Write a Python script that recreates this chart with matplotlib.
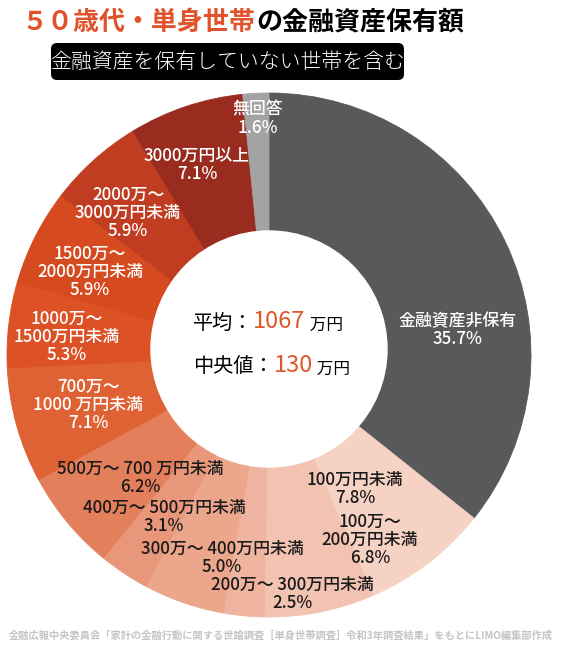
import matplotlib
matplotlib.use("Agg")
import matplotlib.pyplot as plt
from matplotlib.patches import Circle, FancyBboxPatch

plt.rcParams['font.family'] = ['Noto Sans CJK JP', 'DejaVu Sans']

W, H = 561, 646

# data (clockwise from 12 o'clock)
categories = ["金融資産非保有", "100万円未満", "100万～\n200万円未満", "200万～ 300万円未満",
              "300万～ 400万円未満", "400万～ 500万円未満", "500万～ 700 万円未満",
              "700万～\n1000 万円未満", "1000万～\n1500万円未満", "1500万～\n2000万円未満",
              "2000万～\n3000万円未満", "3000万円以上", "無回答"]
shares = [35.7, 7.8, 6.8, 2.5, 5.0, 3.1, 6.2, 7.1, 5.3, 5.9, 5.9, 7.1, 1.6]
slice_colors = ["#58595b", "#f6d2c4", "#f2c3b1", "#efb49f", "#eba68c", "#e8977a",
                "#e47f5c", "#df6234", "#dc5226", "#d64a1f", "#c03d22", "#992c1f", "#a3a3a3"]
label_colors = ["white", "#1a1a1a", "#1a1a1a", "#1a1a1a", "#1a1a1a", "#1a1a1a", "#1a1a1a",
                "white", "white", "white", "white", "white", "white"]
# label centres in image pixels (x, y from top)
label_pos = [(458, 330), (355, 489), (370, 540), (292, 594), (222, 558), (164, 517),
             (140, 478), (88, 405), (67, 337), (90, 272), (128, 213), (197, 165), (258, 119)]

mean_value = "1067"
median_value = "130"
title_red = "５０歳代・単身世帯"
title_black = "の金融資産保有額"
subtitle = "金融資産を保有していない世帯を含む"
source = "金融広報中央委員会「家計の金融行動に関する世論調査［単身世帯調査］令和3年調査結果」をもとにLIMO編集部作成"


def py(y):
    # image pixel y (from top) -> axes y
    return H - y


fig = plt.figure(figsize=(W / 100, H / 100), dpi=100)
fig.patch.set_facecolor("white")
ax = fig.add_axes([0, 0, 1, 1])

cx, cy, r = 269, py(355), 262
wedges, _ = ax.pie(shares, colors=slice_colors, startangle=90, counterclock=False,
                   radius=r, center=(cx, cy))
for w, c in zip(wedges, slice_colors):
    w.set_edgecolor(c)
    w.set_linewidth(0.6)
ax.add_patch(Circle((269, py(349)), 118, color="white", zorder=3))

ax.set_xlim(0, W)
ax.set_ylim(0, H)
ax.set_aspect("auto")
ax.axis("off")

# slice labels
for cat, val, col, (x, y) in zip(categories, shares, label_colors, label_pos):
    ax.text(x, py(y), f"{cat}\n{val:.1f}%", ha="center", va="center", color=col,
            fontsize=12.2, fontweight="medium", linespacing=1.02, zorder=4)

# title
t1 = ax.text(22, py(22), title_red, ha="left", va="center", color="#e0532b",
             fontsize=18.7, fontweight="bold")
ax.annotate(title_black, xy=(1, 0), xycoords=t1, ha="left", va="bottom",
            color="black", fontsize=18.7, fontweight="bold")

# subtitle box
ax.add_patch(FancyBboxPatch((51, py(80)), 353, 37, boxstyle="round,pad=0,rounding_size=6",
                            facecolor="black", edgecolor="none"))
ax.text(227, py(62), subtitle, ha="center", va="center", color="white", fontsize=15,
        fontweight="light")

# centre text
m1 = ax.text(193, py(323), "平均：", ha="left", va="center", color="black", fontsize=14.5, zorder=5)
m2 = ax.annotate(mean_value, xy=(1, 0), xycoords=m1, ha="left", va="bottom",
                 color="#e0582a", fontsize=17, zorder=5)
ax.annotate(" 万円", xy=(1, 0), xycoords=m2, ha="left", va="bottom",
            color="black", fontsize=12, zorder=5)
d1 = ax.text(193, py(367), "中央値：", ha="left", va="center", color="black", fontsize=14.5, zorder=5)
d2 = ax.annotate(median_value, xy=(1, 0), xycoords=d1, ha="left", va="bottom",
                 color="#e0582a", fontsize=17, zorder=5)
ax.annotate(" 万円", xy=(1, 0), xycoords=d2, ha="left", va="bottom",
            color="black", fontsize=12, zorder=5)

# source
ax.text(W / 2, py(636), source, ha="center", va="center", color="#c4c4c4",
        fontsize=7.35, fontweight="bold")

fig.savefig("out.png", dpi=100, facecolor="white")
